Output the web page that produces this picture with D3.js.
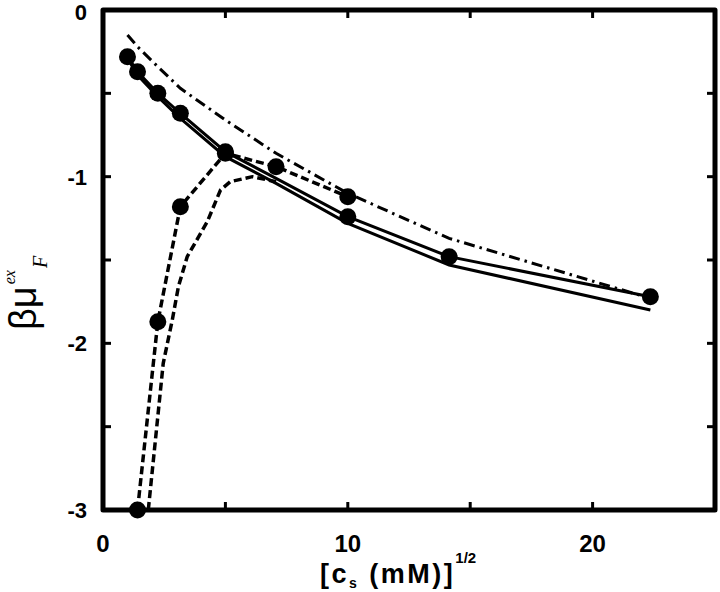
<!DOCTYPE html>
<html>
<head>
<meta charset="utf-8">
<script src="https://cdn.jsdelivr.net/npm/d3@7"></script>
<style>
  body { margin: 0; background: #fff; }
  svg { display: block; }
</style>
</head>
<body>
<svg id="chart" width="720" height="592"></svg>
<script>
// sqrt of salt concentration
var xs = [1, 1.41, 2.24, 3.16, 5, 7.07, 10, 14.14, 22.36]

// two solid curves (upper carries the dots)
var solidUpper = [-0.28, -0.37, -0.50, -0.62, -0.85, -1.01, -1.24, -1.48, -1.72]
var solidLower = [-0.29, -0.39, -0.52, -0.65, -0.88, -1.04, -1.28, -1.53, -1.80]
var solidDotX = [1, 1.41, 2.24, 3.16, 5, 10, 14.14, 22.36]
var solidDotY = [-0.28, -0.37, -0.50, -0.62, -0.85, -1.24, -1.48, -1.72]

// dash-dot curve
var dashDot = [-0.15, -0.22, -0.34, -0.47, -0.66, -0.86, -1.10, -1.37, -1.73]

// dashed curve with dots
var dashedX = [1.41, 2.24, 3.16, 5, 7.07, 10]
var dashedY = [-3.0, -1.87, -1.18, -0.86, -0.94, -1.12]

// dashed curve without dots
var dashed2X = [1.85, 2.46, 2.83, 3.08, 3.44, 4.26, 4.8, 5.2, 6.1, 7.07]
var dashed2Y = [-3.0, -2.12, -1.86, -1.66, -1.48, -1.27, -1.08, -1.03, -1.0, -1.03]

var xTicks = [0, 5, 10, 15, 20, 25]
var xLabels = [0, 10, 20]
var yTicks = [-3, -2.5, -2, -1.5, -1, -0.5, 0]
var yLabels = [-3, -2, -1, 0]

var svg = d3.select('#chart')

var x = d3.scaleLinear().domain([0, 25]).range([103, 715])
var y = d3.scaleLinear().domain([-3, 0]).range([510, 10])

var line = d3.line().x(d => x(d[0])).y(d => y(d[1]))

svg.append('clipPath').attr('id', 'clip')
  .append('rect')
  .attr('x', x(0)).attr('y', y(0))
  .attr('width', x(25) - x(0)).attr('height', y(-3) - y(0))

var g = svg.append('g').attr('clip-path', 'url(#clip)')

g.append('path')
  .datum(d3.zip(xs, dashDot))
  .attr('d', line)
  .attr('fill', 'none').attr('stroke', '#000')
  .attr('stroke-width', 3)
  .attr('stroke-dasharray', '11,5,2.5,5')

g.append('path')
  .datum(d3.zip(xs, solidUpper))
  .attr('d', line)
  .attr('fill', 'none').attr('stroke', '#000')
  .attr('stroke-width', 3)

g.append('path')
  .datum(d3.zip(xs, solidLower))
  .attr('d', line)
  .attr('fill', 'none').attr('stroke', '#000')
  .attr('stroke-width', 3)

g.append('path')
  .datum(d3.zip(dashedX, dashedY))
  .attr('d', line)
  .attr('fill', 'none').attr('stroke', '#000')
  .attr('stroke-width', 3.5)
  .attr('stroke-dasharray', '8,4')

g.append('path')
  .datum(d3.zip(dashed2X, dashed2Y))
  .attr('d', line)
  .attr('fill', 'none').attr('stroke', '#000')
  .attr('stroke-width', 3.5)
  .attr('stroke-dasharray', '8,4')

// dots
svg.selectAll('sdot')
  .data(d3.zip(solidDotX, solidDotY))
  .enter()
  .append('circle')
    .attr('cx', d => x(d[0]))
    .attr('cy', d => y(d[1]))
    .attr('r', 8.5)
    .style('fill', '#000')

svg.selectAll('ddot')
  .data(d3.zip(dashedX, dashedY))
  .enter()
  .append('circle')
    .attr('cx', d => x(d[0]))
    .attr('cy', d => y(d[1]))
    .attr('r', 8.5)
    .style('fill', '#000')

// ticks on all four sides, pointing in
var tl = 8
svg.selectAll('xtb').data(xTicks).enter().append('line')
  .attr('x1', d => x(d)).attr('x2', d => x(d))
  .attr('y1', y(-3)).attr('y2', y(-3) - tl)
  .attr('stroke', '#000').attr('stroke-width', 3)
svg.selectAll('xtt').data(xTicks).enter().append('line')
  .attr('x1', d => x(d)).attr('x2', d => x(d))
  .attr('y1', y(0)).attr('y2', y(0) + tl)
  .attr('stroke', '#000').attr('stroke-width', 3)
svg.selectAll('ytl').data(yTicks).enter().append('line')
  .attr('x1', x(0)).attr('x2', x(0) + tl)
  .attr('y1', d => y(d)).attr('y2', d => y(d))
  .attr('stroke', '#000').attr('stroke-width', 3)
svg.selectAll('ytr').data(yTicks).enter().append('line')
  .attr('x1', x(25)).attr('x2', x(25) - tl)
  .attr('y1', d => y(d)).attr('y2', d => y(d))
  .attr('stroke', '#000').attr('stroke-width', 3)

// frame
svg.append('rect')
  .attr('x', x(0)).attr('y', y(0))
  .attr('width', x(25) - x(0)).attr('height', y(-3) - y(0))
  .attr('fill', 'none').attr('stroke', '#000')
  .attr('stroke-width', 5)
  .attr('stroke-linejoin', 'round')

// tick labels
svg.selectAll('xlab').data(xLabels).enter().append('text')
  .attr('x', d => x(d)).attr('y', 552)
  .attr('text-anchor', 'middle')
  .style('font-family', 'Liberation Sans, Arial, sans-serif')
  .style('font-weight', 'bold').style('font-size', '24px')
  .text(d => d)

svg.selectAll('ylab').data(yLabels).enter().append('text')
  .attr('x', 87).attr('y', d => d === 0 ? y(d) + 2 : y(d)).attr('dy', '0.36em')
  .attr('text-anchor', 'end')
  .style('font-family', 'Liberation Sans, Arial, sans-serif')
  .style('font-weight', 'bold').style('font-size', '22px')
  .text(d => d < 0 ? '-' + Math.abs(d) : d)

// x title
var xt = svg.append('text')
  .attr('x', 320).attr('y', 583)
  .style('font-family', 'Liberation Sans, Arial, sans-serif')
  .style('font-weight', 'bold').style('font-size', '27px')
  .style('letter-spacing', '2.5px')
xt.append('tspan').text('[c')
xt.append('tspan').attr('dy', 5).style('font-size', '14px').text('s')
xt.append('tspan').attr('dy', -5).text(' (mM)]')
xt.append('tspan').attr('dy', -20).style('font-size', '15px').style('letter-spacing', '0px').text('1/2')

// y title
var yt = svg.append('text')
  .attr('transform', 'translate(36,330) rotate(-90)')
  .style('font-family', 'Liberation Sans, Arial, sans-serif')
  .style('font-size', '38px')
yt.append('tspan').text('βμ')
yt.append('tspan').attr('dy', -21).attr('dx', 2)
  .style('font-family', 'Liberation Serif, serif').style('font-style', 'italic')
  .style('font-size', '16px').text('ex')
yt.append('tspan').attr('dy', 32).attr('dx', 2)
  .style('font-family', 'Liberation Serif, serif').style('font-style', 'italic')
  .style('font-size', '20px').text('F')
</script>
</body>
</html>
